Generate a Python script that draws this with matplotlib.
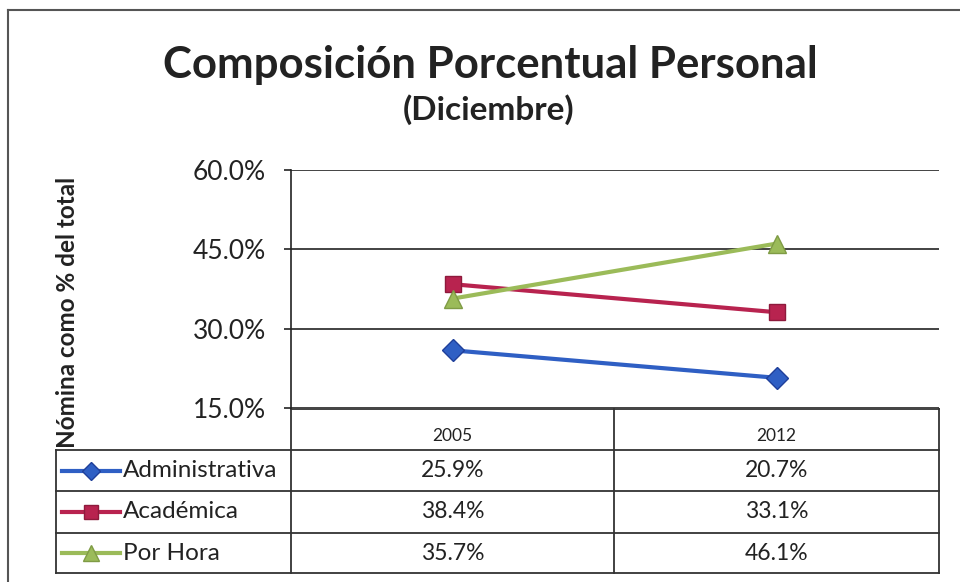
import matplotlib.pyplot as plt
from matplotlib.lines import Line2D

years = ['2005', '2012']
series = ['Administrativa', 'Académica', 'Por Hora']
administrativa = [25.9, 20.7]
academica = [38.4, 33.1]
por_hora = [35.7, 46.1]
y_ticks = [15, 30, 45, 60]

colors = ['#2f5fc4', '#b8234f', '#9bbb59']
edges = ['#1f3f9a', '#8e1a3c', '#7f9b45']
markers = ['D', 's', '^']
msizes = [11, 12, 13]

plt.rcParams['font.family'] = ['Lato', 'DejaVu Sans']

W, H = 960, 582
fig = plt.figure(figsize=(9.6, 5.82), dpi=100)


def fx(px):
    return px / W


def fy(py):
    return 1 - py / H


# plot area
ax = fig.add_axes([fx(291), fy(408), fx(939) - fx(291), fy(170) - fy(408)])
x = range(len(years))
for vals, c, ec, m, ms in zip([administrativa, academica, por_hora], colors, edges, markers, msizes):
    ax.plot(x, vals, color=c, lw=3, marker=m, ms=ms, mfc=c, mec=ec, mew=1, zorder=3)

ax.set_xlim(-0.5, len(years) - 0.5)
ax.set_ylim(15, 60)
ax.set_yticks(y_ticks)
ax.set_yticklabels([f'{v:.1f}%' for v in y_ticks], fontsize=19, color='#222')
ax.set_xticks([])
ax.grid(axis='y', color='#222', lw=1.2)
for s in ['top', 'right', 'bottom']:
    ax.spines[s].set_visible(False)
ax.spines['left'].set_color('#222')
ax.spines['left'].set_linewidth(1.2)
ax.tick_params(axis='y', direction='out', length=5, width=1.2, pad=13, color='#222')

# data table
tab = fig.add_axes([0, 0, 1, 1], zorder=-1)
tab.set_xlim(0, W)
tab.set_ylim(H, 0)
tab.axis('off')
lc = '#333'
lw = 1.3
row_y = [409, 450, 491, 533, 573]
col_x = [56, 291, 614, 939]
tab.plot([col_x[1], col_x[1]], [row_y[0], row_y[-1]], color=lc, lw=lw)
tab.plot([col_x[2], col_x[2]], [row_y[0], row_y[-1]], color=lc, lw=lw)
tab.plot([col_x[3], col_x[3]], [row_y[0], row_y[-1]], color=lc, lw=lw)
tab.plot([col_x[0], col_x[0]], [row_y[1], row_y[-1]], color=lc, lw=lw)
tab.plot([col_x[1], col_x[3]], [row_y[0], row_y[0]], color=lc, lw=lw)
for yy in row_y[1:]:
    tab.plot([col_x[0], col_x[3]], [yy, yy], color=lc, lw=lw)

for j, yr in enumerate(years):
    cx = (col_x[j + 1] + col_x[j + 2]) / 2
    tab.text(cx, 436, yr, ha='center', va='center', fontsize=12.5, color='#222')

for i, (name, vals) in enumerate(zip(series, [administrativa, academica, por_hora])):
    cy = (row_y[i + 1] + row_y[i + 2]) / 2
    tab.plot([62, 120], [cy, cy], color=colors[i], lw=3)
    tab.plot([91], [cy], marker=markers[i], ms=msizes[i] - 2, color=colors[i], mec=edges[i])
    tab.text(123, cy, name, ha='left', va='center', fontsize=17.5, color='#222')
    for j, v in enumerate(vals):
        cx = (col_x[j + 1] + col_x[j + 2]) / 2
        tab.text(cx, cy, f'{v:.1f}%', ha='center', va='center', fontsize=16.5, color='#222')

# titles
fig.text(fx(490), fy(65), 'Composición Porcentual Personal', ha='center', va='center',
         fontsize=31.5, fontweight='bold', color='#222')
fig.text(fx(489), fy(110), '(Diciembre)', ha='center', va='center',
         fontsize=24, fontweight='bold', color='#222')
fig.text(fx(68), fy(312), 'Nómina como % del total', ha='center', va='center',
         rotation=90, fontsize=17.5, fontweight='bold', color='#222')

# chart frame
fig.add_artist(Line2D([fx(8), fx(8)], [fy(10), 0], transform=fig.transFigure, color='#555', lw=1.5))
fig.add_artist(Line2D([fx(8), 1], [fy(10), fy(10)], transform=fig.transFigure, color='#555', lw=1.5))

fig.savefig('out.png', dpi=100)
